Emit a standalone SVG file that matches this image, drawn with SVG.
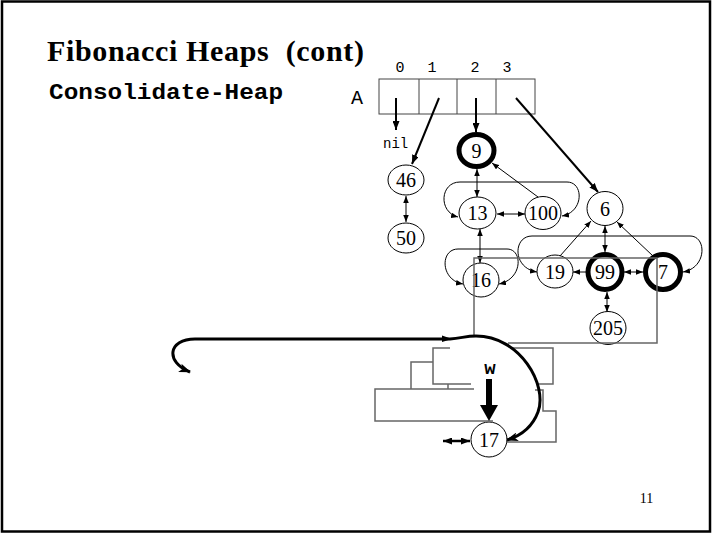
<svg xmlns="http://www.w3.org/2000/svg" width="713" height="535" viewBox="0 0 713 535">
<style>
.node ellipse{fill:#fff;stroke:#000;stroke-width:1}
.node.bold ellipse{stroke-width:5}
.node text{font-family:"Liberation Serif","Times New Roman",serif;font-size:20px;text-anchor:middle;fill:#000}
.thin{fill:none;stroke:#000;stroke-width:1}
.arr{fill:none;stroke:#000;stroke-width:2}
.gray{fill:none;stroke:#666;stroke-width:1.5}
.mono{font-family:"Liberation Mono","Courier New",monospace;fill:#000}
</style>
<defs>
<marker id="s" markerUnits="userSpaceOnUse" viewBox="0 0 7 5.5" refX="7" refY="2.75" markerWidth="7" markerHeight="5.5" orient="auto-start-reverse"><path d="M0,0 L7,2.75 L0,5.5 z" fill="#000"/></marker>
<marker id="m" markerUnits="userSpaceOnUse" viewBox="0 0 9 7" refX="9" refY="3.5" markerWidth="9" markerHeight="7" orient="auto-start-reverse"><path d="M0,0 L9,3.5 L0,7 z" fill="#000"/></marker>
<marker id="b" markerUnits="userSpaceOnUse" viewBox="0 0 12 9" refX="11" refY="4.5" markerWidth="12" markerHeight="9" orient="auto-start-reverse"><path d="M0,0 L12,4.5 L0,9 L3,4.5 z" fill="#000"/></marker>
</defs>
<rect x="2" y="1.5" width="708" height="530" fill="#fff" stroke="#000" stroke-width="2.5"/>
<text x="47" y="61" xml:space="preserve" textLength="317" font-family="Liberation Serif,'Times New Roman',serif" font-weight="bold" font-size="30">Fibonacci Heaps  (cont)</text>
<text class="mono" x="49" y="99" font-size="22" font-weight="bold" textLength="234" lengthAdjust="spacingAndGlyphs">Consolidate-Heap</text>
<g id="array">
<rect x="379" y="79" width="156" height="35" fill="#fff" stroke="#444" stroke-width="1"/>
<path d="M419,79 V114 M457,79 V114 M496,79 V114" stroke="#444" stroke-width="1"/>
<text class="mono" x="357" y="104" font-size="20" text-anchor="middle">A</text>
<g class="mono" font-size="15" text-anchor="middle">
<text x="400" y="72">0</text><text x="432" y="72">1</text><text x="475" y="72">2</text><text x="507" y="72">3</text>
</g>
<text class="mono" x="383" y="148" font-size="14">nil</text>
</g>
<g id="connectors">
<path class="arr" d="M396,98 V130" marker-end="url(#m)"/>
<path class="arr" d="M439,98 L412,164" marker-end="url(#m)"/>
<path class="arr" d="M476,98 V132" marker-end="url(#m)"/>
<path class="arr" d="M516,98 L598,192" marker-end="url(#m)"/>
<path class="thin" d="M406,196 V222" marker-start="url(#s)" marker-end="url(#s)"/>
<path class="thin" d="M477,169 V197" marker-start="url(#s)" marker-end="url(#s)"/>
<path class="thin" d="M497,214 H525" marker-start="url(#s)" marker-end="url(#s)"/>
<path class="thin" d="M538,197 L492,163" marker-end="url(#s)"/>
<path class="thin" d="M460,182 H567 M460,182 C440,182 438,212 458,217" marker-end="url(#s)"/>
<path class="thin" d="M567,182 C584,182 584,212 562,216" marker-end="url(#s)"/>
<path class="thin" d="M480,229 V263" marker-start="url(#s)" marker-end="url(#s)"/>
<path class="thin" d="M458,249 H507 M458,249 C440,249 440,280 463,284" marker-end="url(#s)"/>
<path class="thin" d="M507,249 C523,249 523,279 499,284" marker-end="url(#s)"/>
<path class="thin" d="M532,236 H690 M532,236 C513,236 512,268 537,272" marker-end="url(#s)"/>
<path class="thin" d="M690,236 C707,236 707,268 683,272" marker-end="url(#s)"/>
<path class="thin" d="M605,226 V252" marker-start="url(#s)" marker-end="url(#s)"/>
<path class="thin" d="M560,256 L591,221" marker-end="url(#s)"/>
<path class="thin" d="M653,256 L617,222" marker-end="url(#s)"/>
<path class="thin" d="M586,272 H573" marker-end="url(#s)"/>
<path class="thin" d="M624,272 H643" marker-start="url(#s)" marker-end="url(#s)"/>
<path class="thin" d="M607,292 V312" marker-start="url(#s)" marker-end="url(#s)"/>
</g>
<g id="n46" class="node"><ellipse cx="406" cy="180" rx="18" ry="15"/><text x="406" y="187">46</text></g>
<g id="n50" class="node"><ellipse cx="406" cy="238" rx="18" ry="15"/><text x="406" y="245">50</text></g>
<g id="n9" class="node bold"><ellipse cx="476.5" cy="150.5" rx="17.5" ry="16"/><text x="476.5" y="157.5">9</text></g>
<g id="n13" class="node"><ellipse cx="477.5" cy="213" rx="18.5" ry="16"/><text x="477.5" y="220">13</text></g>
<g id="n100" class="node"><ellipse cx="543" cy="213" rx="18" ry="16.5"/><text x="543" y="220">100</text></g>
<g id="n6" class="node"><ellipse cx="605" cy="208.5" rx="18" ry="17"/><text x="605" y="215.5">6</text></g>
<g id="n16" class="node"><ellipse cx="481" cy="280" rx="18" ry="17"/><text x="481" y="287">16</text></g>
<g id="n19" class="node"><ellipse cx="555" cy="271.5" rx="18" ry="16.5"/><text x="555" y="278.5">19</text></g>
<g id="n99" class="node bold"><ellipse cx="605" cy="272" rx="17" ry="17.5"/><text x="605" y="279">99</text></g>
<g id="n7" class="node bold"><ellipse cx="663" cy="272" rx="17.5" ry="17.5"/><text x="663" y="279">7</text></g>
<g id="n205" class="node"><ellipse cx="608" cy="328" rx="18" ry="16.5"/><text x="608" y="335">205</text></g>
<g id="n17" class="node"><ellipse cx="489" cy="439.5" rx="18" ry="17.5"/><text x="489" y="446.5">17</text></g>
<g id="stale">
<path class="gray" d="M474,336 V258 H657 V343 H508"/>
<path class="gray" d="M450,348 H433 V384 H471 M411,389 V362 H433 M448,384 V389 M474,389 H375 V421 H493"/>
<path class="gray" d="M510,348 H553 V384 H537 M535,390 H543 V411 H556 V442 H507"/>
</g>
<g id="pointer">
<path d="M190,372 C165,362 168,339 195,339 L450,339 C462,338 466,336 476,336 C520,336 548,385 538,412 C532,428 520,436 507,440" fill="none" stroke="#000" stroke-width="3" marker-start="url(#b)" marker-end="url(#b)"/>
<path d="M442,335.5 L452,339 L442,342 z" fill="#000"/>
<text class="mono" x="490" y="374" font-size="19" font-weight="bold" text-anchor="middle">w</text>
<path d="M489,379 V407" stroke="#000" stroke-width="6"/>
<path d="M480,405 H498 L489,421 z" fill="#000"/>
<path d="M443,441 H470" stroke="#000" stroke-width="2.5" marker-start="url(#m)" marker-end="url(#m)"/>
</g>
<text x="646.5" y="503" font-family="Liberation Serif,'Times New Roman',serif" font-size="14" text-anchor="middle">11</text>
</svg>
